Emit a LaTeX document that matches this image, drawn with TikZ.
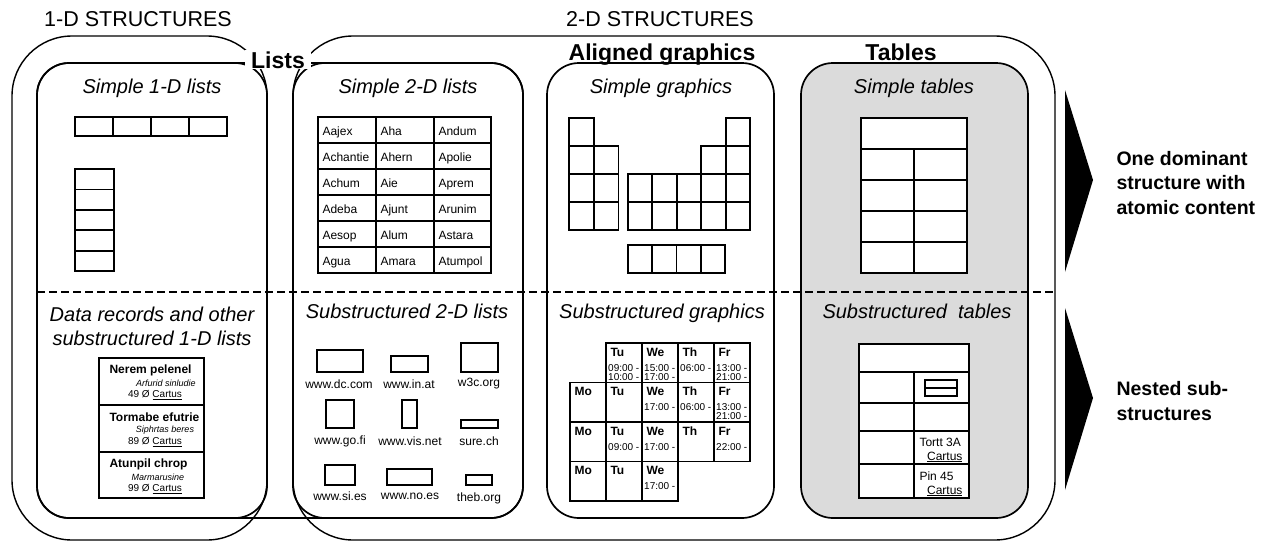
\documentclass[tikz,border=0pt]{standalone}
\usepackage{fontspec}
\setmainfont{Liberation Sans}
\usepackage{tikz}

\begin{document}
\begin{tikzpicture}[x=1pt, y=-1pt,
  outer/.style={draw, line width=1.4pt, rounded corners=60pt},
  frame/.style={draw, line width=1.7pt, rounded corners=32pt},
  cell/.style={draw, line width=1.8pt},
  head/.style={font=\fontsize{21.5}{24}\selectfont, anchor=base},
  group/.style={font=\fontsize{23}{26}\selectfont\bfseries, anchor=base},
  coltitle/.style={font=\fontsize{20}{24}\selectfont\itshape, align=center},
  entry/.style={font=\fontsize{12}{14}\selectfont, anchor=base west},
  site/.style={font=\fontsize{12}{14}\selectfont},
  recname/.style={font=\fontsize{12}{14}\selectfont\bfseries, anchor=west},
  recsub/.style={font=\fontsize{9}{11}\selectfont\itshape},
  recprice/.style={font=\fontsize{10}{12}\selectfont},
  day/.style={font=\fontsize{12}{14}\selectfont\bfseries, anchor=west},
  hours/.style={font=\fontsize{10}{9}\selectfont, anchor=north west, align=left, inner sep=1pt},
  result/.style={font=\fontsize{19.5}{24.5}\selectfont\bfseries, align=left, anchor=west}
]
  \useasboundingbox (0,0) rectangle (1264,546);

  \draw[outer] (12,36) rectangle (267,540);
  \draw[outer] (293,36) rectangle (1055,540);
  \draw[frame] (37,63) rectangle (523,518);
  \draw[frame] (37,63) rectangle (267,518);
  \draw[frame] (293,63) rectangle (523,518);
  \draw[frame] (547,63) rectangle (774,518);
  \draw[frame, fill=black!14] (801,63) rectangle (1028,518);
  \draw[line width=2.4pt, dash pattern=on 8pt off 4pt] (37,292) -- (1055,292);

  \node[head] (oned) at (138,27) {1-D STRUCTURES};
  \node[head] (twod) at (660,27) {2-D STRUCTURES};
  \node[group, fill=white, inner xsep=6pt, inner ysep=1pt] (lists) at (278,68) {Lists};
  \node[group] (aligned) at (662,60) {Aligned graphics};
  \node[group] (tables) at (901,60) {Tables};

  \node[coltitle, anchor=base] (simple1d) at (152,93) {Simple 1-D lists};
  \node[coltitle, anchor=base] (simple2d) at (408,93) {Simple 2-D lists};
  \node[coltitle, anchor=base] (simplegr) at (661,93) {Simple graphics};
  \node[coltitle, anchor=base] (simpletb) at (914,93) {Simple tables};
  \node[coltitle] (records) at (152,326) {Data records and other\\substructured 1-D lists};
  \node[coltitle, anchor=base] (sub2d) at (407,318) {Substructured 2-D lists};
  \node[coltitle, anchor=base] (subgr) at (662,318) {Substructured graphics};
  \node[coltitle, anchor=base] (subtb) at (917,318) {Substructured\ \ tables};

  \foreach \i in {0,...,3}
    \draw[cell] (75+38*\i,117) rectangle ++(38,19);
  \foreach \i in {0,...,4}
    \draw[cell] (75,169+20.4*\i) rectangle ++(39,20.4);

  \draw[cell] (318,117) rectangle (491,273);
  \foreach \x in {376,434}
    \draw[cell] (\x,117) -- (\x,273);
  \foreach \k in {1,...,5}
    \draw[cell] (318,117+26*\k) -- (491,117+26*\k);
  \foreach [count=\r from 0] \a/\b/\c in {Aajex/Aha/Andum, Achantie/Ahern/Apolie,
      Achum/Aie/Aprem, Adeba/Ajunt/Arunim, Aesop/Alum/Astara, Agua/Amara/Atumpol} {
    \node[entry] (na\r) at (319,135+26*\r) {\a};
    \node[entry] (nb\r) at (377,135+26*\r) {\b};
    \node[entry] (nc\r) at (435,135+26*\r) {\c};
  }

  \foreach \x/\r in {569.3/0, 594/1, 627.7/2, 652.2/2, 676.7/2, 701.2/1, 725.7/0}
    \foreach \k in {\r,...,3}
      \draw[cell] (\x,117.7+28.1*\k) rectangle ++(24.5,28.1);
  \foreach \i in {0,...,3}
    \draw[cell] (627.7+24.4*\i,245) rectangle ++(24.4,28.3);

  \draw[cell, fill=white] (861,118) rectangle (967,273);
  \foreach \y in {149,180,211,242}
    \draw[cell] (861,\y) -- (967,\y);
  \draw[cell] (914,149) -- (914,273);

  \draw[cell] (99,358) rectangle (204,498);
  \draw[cell] (99,405) -- (204,405);
  \draw[cell] (99,452) -- (204,452);
  \foreach [count=\n] \y/\nm/\sb/\sx/\pr in {358/Nerem pelenel/Arfurid sinludie/166/49,
      405/Tormabe efutrie/Siphrtas beres/165/89, 452/Atunpil chrop/Marmarusine/158/99} {
    \node[recname] (rec\n) at (106,\y+12) {\nm};
    \node[recsub] (sub\n) at (\sx,\y+25) {\sb};
    \node[recprice] (price\n) at (155,\y+37) {\pr~Ø \underline{Cartus}};
  }

  \foreach [count=\n] \xa/\ya/\xb/\yb/\lx/\ly/\t in {
      317/350/363/372/339/384/www.dc.com, 391/356/428/372/409/384/www.in.at,
      461/343/498/372/479/384/w3c.org, 326/400/354/428/340/441/www.go.fi,
      402/400/417/428/410/441/www.vis.net, 461/420/498/428/479/441/sure.ch,
      325/465/355/485/340/496/www.si.es, 387/469/432/485/410/496/www.no.es,
      466/475/492/485/479/498/theb.org} {
    \draw[cell] (\xa,\ya) rectangle (\xb,\yb);
    \node[site] (site\n) at (\lx,\ly) {\t};
  }

  \foreach \r/\ca/\cb in {0/1/4, 1/0/4, 2/0/4, 3/0/2}
    \foreach \c in {\ca,...,\cb}
      \draw[cell] (570+36*\c,343+39.5*\r) rectangle ++(36,39.5);
  \foreach \r/\c/\d in {0/1/Tu, 0/2/We, 0/3/Th, 0/4/Fr, 1/0/Mo, 1/1/Tu, 1/2/We, 1/3/Th, 1/4/Fr,
      2/0/Mo, 2/1/Tu, 2/2/We, 2/3/Th, 2/4/Fr, 3/0/Mo, 3/1/Tu, 3/2/We}
    \node[day] (d\r\c) at (571+36*\c,352+39.5*\r) {\d};
  \foreach \r/\c/\t in {0/1/09:00 -\\10:00 -, 0/2/15:00 -\\17:00 -, 0/3/06:00 -,
      0/4/13:00 -\\21:00 -, 1/2/17:00 -, 1/3/06:00 -, 1/4/13:00 -\\21:00 -,
      2/1/09:00 -, 2/2/17:00 -, 2/4/22:00 -, 3/2/17:00 -}
    \node[hours] (h\r\c) at (571+36*\c,363+39.5*\r) {\t};

  \draw[cell, fill=white] (859,344) rectangle (969,498);
  \foreach \y in {372,403,431,464}
    \draw[cell] (859,\y) -- (969,\y);
  \draw[cell] (914,372) -- (914,498);
  \draw[cell] (925,380) rectangle (957,396);
  \draw[cell] (925,388) -- (957,388);
  \node[site, anchor=west] (tortt) at (916,442) {Tortt 3A};
  \node[site, anchor=east] (cartusa) at (966,457) {\underline{Cartus}};
  \node[site, anchor=west] (pin) at (916,476) {Pin 45};
  \node[site, anchor=east] (cartusb) at (966,491) {\underline{Cartus}};

  \fill (1065,90) -- (1093,180) -- (1065,272) -- cycle;
  \fill (1065,308) -- (1093,398) -- (1065,490) -- cycle;
  \node[result] (atomic) at (1113,183) {One dominant\\structure with\\atomic content};
  \node[result] (nested) at (1113,401) {Nested sub-\\structures};
\end{tikzpicture}
\end{document}
